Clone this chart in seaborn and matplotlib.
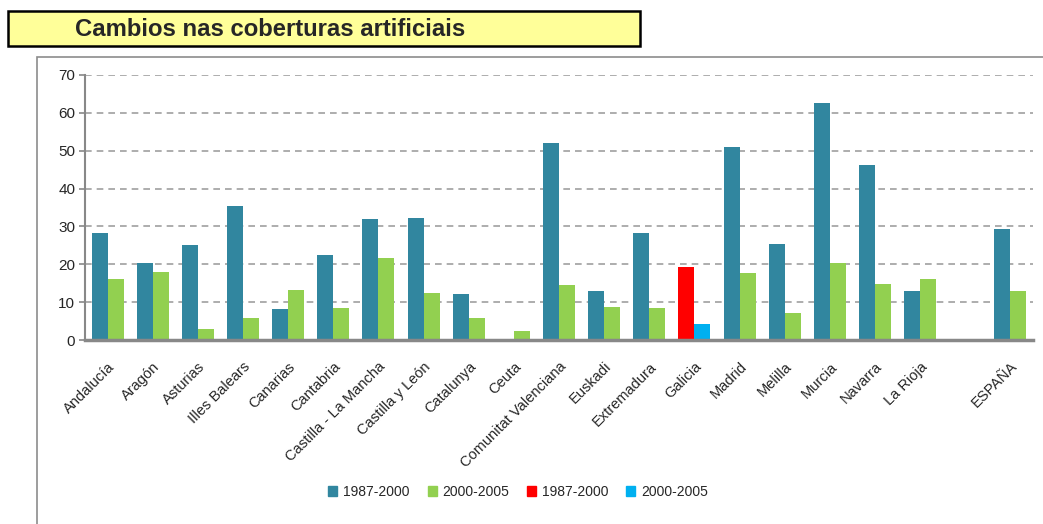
import pandas as pd
import matplotlib.pyplot as plt
import seaborn as sns
from matplotlib.patches import Patch, Rectangle

# -------------------------------
# Data
# -------------------------------
regions = ['Andalucía', 'Aragón', 'Asturias', 'Illes Balears', 'Canarias', 'Cantabria',
           'Castilla - La Mancha', 'Castilla y León', 'Catalunya', 'Ceuta',
           'Comunitat Valenciana', 'Euskadi', 'Extremadura', 'Galicia', 'Madrid',
           'Melilla', 'Murcia', 'Navarra', 'La Rioja', ' ', 'ESPAÑA']
periods = ['1987-2000', '2000-2005']

v_1987_2000 = [28.2, 20.4, 25.2, 35.4, 8.1, 22.4, 32.0, 32.3, 12.2, 0.0, 52.1, 13.0,
               28.2, None, 51.0, 25.4, 62.7, 46.2, 13.0, None, 29.2]
v_2000_2005 = [16.0, 18.0, 3.0, 5.7, 13.2, 8.5, 21.7, 12.5, 5.7, 2.3, 14.6, 8.8,
               8.4, None, 17.7, 7.1, 20.4, 14.9, 16.2, None, 13.0]

galicia_values = [19.4, 4.3]

colors_main = {'1987-2000': '#31869F', '2000-2005': '#92D050'}
colors_galicia = {'1987-2000': '#FF0000', '2000-2005': '#00B0F0'}

# long tables for seaborn
rows = []
for reg, a, b in zip(regions, v_1987_2000, v_2000_2005):
    if a is not None:
        rows.append((reg, periods[0], a))
    if b is not None:
        rows.append((reg, periods[1], b))
df = pd.DataFrame(rows, columns=['region', 'period', 'value'])
df_gal = pd.DataFrame({'region': ['Galicia', 'Galicia'], 'period': periods, 'value': galicia_values})

# -------------------------------
# Plot
# -------------------------------
sns.set_style('white')
plt.rcParams['font.family'] = ['Liberation Sans', 'DejaVu Sans']

W, H = 1043, 524
fig = plt.figure(figsize=(W / 100, H / 100), dpi=100)
ax = fig.add_axes([85 / W, 1 - 340 / H, (1033 - 85) / W, (340 - 75) / H])

common = dict(x='region', y='value', hue='period', order=regions, hue_order=periods,
              width=0.71, saturation=1, errorbar=None, legend=False, ax=ax, linewidth=0)
sns.barplot(data=df, palette=colors_main, **common)
sns.barplot(data=df_gal, palette=colors_galicia, **common)

ax.set_ylim(0, 70)
ax.set_xlim(-0.5, len(regions) - 0.5)
ax.set_yticks(range(0, 71, 10))
ax.set_xlabel('')
ax.set_ylabel('')
ax.yaxis.grid(True, linestyle=(0, (4, 3)), color='#a0a0a0', linewidth=1.2)
ax.xaxis.grid(False)
ax.set_axisbelow(True)

for s in ['top', 'right']:
    ax.spines[s].set_visible(False)
ax.spines['left'].set_color('#888888')
ax.spines['left'].set_linewidth(1.5)
ax.spines['bottom'].set_color('#888888')
ax.spines['bottom'].set_linewidth(2.5)

ax.tick_params(axis='y', left=True, length=4, width=1.2, color='#888888', labelsize=11, pad=3)
ax.tick_params(axis='x', bottom=False, length=0, labelsize=10.5, pad=14)
plt.setp(ax.get_xticklabels(), rotation=45, ha='right', rotation_mode='anchor')

# legend
handles = [Patch(color=colors_main[p]) for p in periods] + [Patch(color=colors_galicia[p]) for p in periods]
labels = periods + periods
fig.legend(handles, labels, ncol=4, loc='center', bbox_to_anchor=(518 / W, 1 - 492 / H),
           frameon=False, fontsize=10, handlelength=0.65, handleheight=0.65,
           handletextpad=0.4, columnspacing=1.3)

# chart area frame (runs off the bottom and right edges)
top = 1 - 57 / H
fig.add_artist(Rectangle((37 / W, -0.5), 2, top + 0.5, transform=fig.transFigure,
                         fill=False, edgecolor='#8c8c8c', linewidth=1.2, clip_on=False))

# title box
fig.add_artist(Rectangle((8 / W, 1 - 46 / H), 632 / W, 35 / H, transform=fig.transFigure,
                         facecolor='#FFFF99', edgecolor='black', linewidth=1.8))
fig.text(75 / W, 1 - 29 / H, 'Cambios nas coberturas artificiais', fontsize=17.2, fontweight='bold',
         va='center', ha='left', family=['Liberation Sans Narrow', 'Liberation Sans', 'DejaVu Sans'])

fig.savefig('out.png', dpi=100)
